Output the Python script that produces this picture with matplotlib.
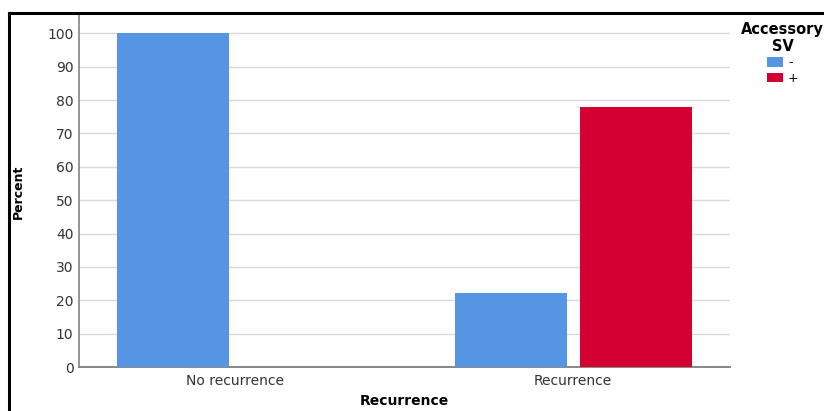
import matplotlib

matplotlib.use("Agg")
import matplotlib.pyplot as plt
import numpy as np
from matplotlib.lines import Line2D
from matplotlib.patches import Patch

# data
categories = ["No recurrence", "Recurrence"]
series_labels = ["-", "+"]
percent_minus = [100.0, 22.2]
percent_plus = [0.0, 77.8]
y_ticks = [0, 10, 20, 30, 40, 50, 60, 70, 80, 90, 100]

BLUE = "#5595e3"
RED = "#d50032"
TXT = "#333333"

plt.rcParams["font.family"] = ["DejaVu Sans"]

fig = plt.figure(figsize=(8.24, 4.11), dpi=100)
ax = fig.add_axes([0.0959, 0.107, 0.790, 0.855])

x = np.arange(len(categories))
w = 0.331
off = 0.185
ax.bar(x - off, percent_minus, width=w, color=BLUE, zorder=3)
ax.bar(x + off, percent_plus, width=w, color=RED, zorder=3)

ax.set_xlim(-0.462, 1.464)
ax.set_ylim(0, 105.3)
ax.set_yticks(y_ticks)
ax.set_xticks(x)
ax.set_xticklabels(categories)
ax.tick_params(axis="both", length=0, labelsize=10, colors=TXT, pad=4)
ax.tick_params(axis="x", pad=5)
ax.yaxis.grid(True, color="#d9d9d9", linewidth=1.0, zorder=0)
ax.set_axisbelow(True)

for side in ["top", "right"]:
    ax.spines[side].set_visible(False)
ax.spines["left"].set_color("#8c8c8c")
ax.spines["bottom"].set_color("#7f7f7f")
ax.spines["left"].set_linewidth(1.3)
ax.spines["bottom"].set_linewidth(1.3)

ax.set_ylabel("Percent", fontsize=9, fontweight="bold", color="black", labelpad=16)
ax.set_xlabel("Recurrence", fontsize=10, fontweight="bold", color="black", labelpad=4)

# legend, partly off the right edge like the screenshot
handles = [Patch(facecolor=BLUE, edgecolor="none"), Patch(facecolor=RED, edgecolor="none")]
leg = fig.legend(
    handles,
    series_labels,
    title="Accessory\nSV",
    loc="upper left",
    bbox_to_anchor=(0.886, 0.975),
    frameon=False,
    fontsize=9,
    handlelength=1.3,
    handleheight=0.8,
    handletextpad=0.4,
    labelspacing=0.2,
)
leg.get_title().set_fontweight("bold")
leg.get_title().set_fontsize(10.5)
leg.get_title().set_multialignment("center")

# screenshot frame on the left and top
fig.add_artist(Line2D([0.011, 0.011], [0, 0.968], transform=fig.transFigure, color="black", linewidth=2.2))
fig.add_artist(Line2D([0.011, 1.0], [0.968, 0.968], transform=fig.transFigure, color="black", linewidth=2.2))

fig.savefig("out.png", dpi=100)
